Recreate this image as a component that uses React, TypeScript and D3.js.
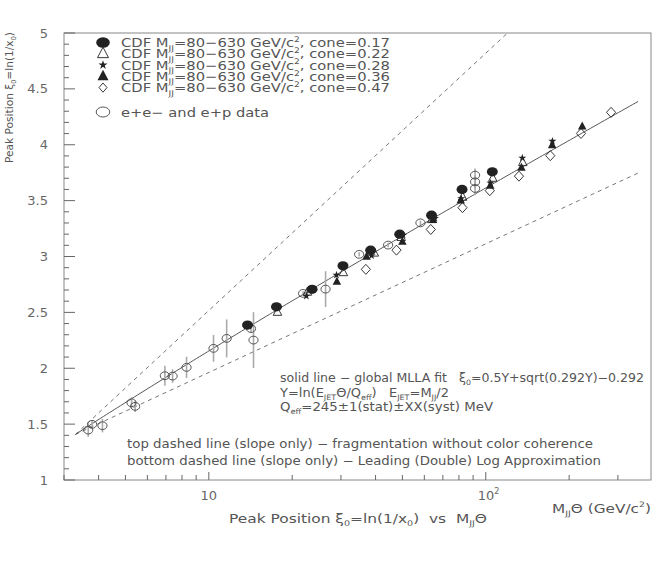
import React from "react";
import * as d3 from "d3";

// ---- data ----
const cone017M = [13.8, 17.55, 23.6, 30.5, 38.4, 48.9, 63.7, 82.1, 105.6];
const cone017Xi = [2.386, 2.55, 2.706, 2.917, 3.057, 3.2, 3.37, 3.6, 3.758];
const cone022M = [17.7, 22.7, 30.6, 39.6, 49.5, 63.8, 82.5, 106, 136];
const cone022Xi = [2.5, 2.68, 2.855, 3.03, 3.17, 3.33, 3.53, 3.7, 3.84];
const cone028M = [22.5, 28.9, 38.7, 50.3, 65.5, 81.6, 104, 135.5, 174];
const cone028Xi = [2.646, 2.834, 3.008, 3.191, 3.341, 3.518, 3.657, 3.882, 4.032];
const cone036M = [29.0, 37.1, 50.0, 64.5, 81.2, 103.8, 134.5, 173.7, 223];
const cone036Xi = [2.774, 2.997, 3.131, 3.326, 3.5, 3.634, 3.793, 3.996, 4.162];
const cone047M = [36.9, 47.6, 63.3, 82.4, 103.4, 131.8, 171, 220.7, 283.4];
const cone047Xi = [2.885, 3.057, 3.242, 3.437, 3.589, 3.719, 3.902, 4.101, 4.29];

const eeM = [3.67, 3.79, 4.13, 5.26, 5.42, 6.94, 7.4, 8.31, 10.4, 11.6, 14.2, 14.5, 21.9, 26.4, 34.9, 44.4, 58.1, 91.5, 91.5, 91.5];
const eeXi = [1.447, 1.498, 1.486, 1.691, 1.659, 1.933, 1.93, 2.008, 2.178, 2.267, 2.355, 2.252, 2.67, 2.708, 3.019, 3.102, 3.301, 3.728, 3.668, 3.609];
const eeErr = [0.06, 0.04, 0.06, 0.05, 0.05, 0.09, 0.06, 0.095, 0.12, 0.17, 0.03, 0.25, 0.02, 0.16, 0.02, 0.02, 0.02, 0.06, 0.06, 0.06];

const yTickLabels = ["1", "1.5", "2", "2.5", "3", "3.5", "4", "4.5", "5"];
const legendLabels = ["0.17", "0.22", "0.28", "0.36", "0.47"];

// fit parameters (printed on the chart)
const Q_EFF = 0.245;
const FIT_A = 0.292;
const LINE_M0 = 3.3;
const LINE_M1 = 355;

type Seg = { t: string; s?: "sub" | "sup" };

function Rich({ x, y, segs, size, anchor = "start", fill = "#555", len }: { x: number; y: number; segs: Seg[]; size: number; anchor?: string; fill?: string; len?: number }) {
  let cur = 0;
  const spans = segs.map((sg, i) => {
    const target = sg.s === "sub" ? size * 0.28 : sg.s === "sup" ? -size * 0.42 : 0;
    const dy = target - cur;
    cur = target;
    return (
      <tspan key={i} dy={dy} fontSize={sg.s ? size * 0.62 : size}>
        {sg.t}
      </tspan>
    );
  });
  const extra: any = len ? { textLength: len, lengthAdjust: "spacingAndGlyphs" } : {};
  return (
    <text x={x} y={y} textAnchor={anchor} fontSize={size} fill={fill} fontFamily="DejaVu Sans, sans-serif" style={{ whiteSpace: "pre" }} {...extra}>
      {spans}
    </text>
  );
}

const triPath = (s: number) => `M0,${-s * 0.6}L${s / 2},${s * 0.35}L${-s / 2},${s * 0.35}Z`;
const diaPath = (w: number, h: number) => `M0,${-h}L${w},0L0,${h}L${-w},0Z`;
const starPath = (size: number) => d3.symbol(d3.symbolStar, size)() as string;

export default function App() {
  const L = 64, R = 651, T = 33, B = 480;
  const x = d3.scaleLog().domain([3, 395]).range([L, R]);
  const y = d3.scaleLinear().domain([1, 5]).range([B, T]);

  const fit = (m: number) => {
    const Y = Math.log(m / 2 / Q_EFF);
    return 0.5 * Y + Math.sqrt(FIT_A * Y) - FIT_A;
  };
  const xi0 = fit(LINE_M0);
  const ms = d3.range(0, 201).map((i) => LINE_M0 * Math.pow(LINE_M1 / LINE_M0, i / 200));
  const line = d3.line<[number, number]>().x((d) => x(d[0])).y((d) => y(d[1]));
  const fitPath = line(ms.map((m) => [m, fit(m)]));
  const mTop = LINE_M0 * Math.exp(5 - xi0);
  const topPath = line([[LINE_M0, xi0], [mTop, 5]]);
  const botPath = line([[LINE_M0, xi0], [LINE_M1, xi0 + 0.5 * Math.log(LINE_M1 / LINE_M0)]]);

  const xTicks = x.ticks();
  const yTicks = d3.range(10, 51).map((v) => v / 10);

  const ink = "#222";
  const grey = "#666";

  const legendY = [42.5, 53.8, 65, 76.3, 87.6];

  return (
    <svg width={654} height={572} style={{ position: "absolute", left: 0, top: 0, background: "#fff" }}>
      <defs>
        <clipPath id="frame">
          <rect x={L} y={T} width={R - L} height={B - T} />
        </clipPath>
      </defs>
      {/* frame */}
      <rect x={L} y={T} width={R - L} height={B - T} fill="none" stroke="#888" strokeWidth={1} />

      {/* y ticks */}
      {yTicks.map((v, i) => {
        const major = Math.abs(v * 2 - Math.round(v * 2)) < 1e-6;
        return <line key={i} x1={L} x2={L + (major ? 11 : 5)} y1={y(v)} y2={y(v)} stroke={grey} strokeWidth={1} />;
      })}
      {yTickLabels.map((t) => (
        <text key={t} x={48} y={y(+t) + 4.5} textAnchor="end" fontSize={13} fill="#666" fontFamily="DejaVu Sans, sans-serif">
          {t}
        </text>
      ))}

      {/* x ticks */}
      {xTicks.map((v, i) => {
        const major = Math.abs(Math.log10(v) - Math.round(Math.log10(v))) < 1e-6;
        return <line key={i} x1={x(v)} x2={x(v)} y1={B} y2={B - (major ? 8 : 5)} stroke={grey} strokeWidth={1} />;
      })}
      <text x={x(10)} y={499.5} textAnchor="middle" fontSize={13} fill="#666" fontFamily="DejaVu Sans, sans-serif">10</text>
      <Rich x={x(100) - 8} y={499.5} size={13} fill="#666" segs={[{ t: "10" }, { t: "2", s: "sup" }]} />

      {/* axis titles */}
      <Rich x={229} y={522.5} size={12.5} len={258} segs={[{ t: "Peak Position ξ" }, { t: "0", s: "sub" }, { t: "=ln(1/x" }, { t: "0", s: "sub" }, { t: ")  vs  M" }, { t: "JJ", s: "sub" }, { t: "Θ" }]} />
      <Rich x={552} y={512.5} size={12} len={99} segs={[{ t: "M" }, { t: "JJ", s: "sub" }, { t: "Θ (GeV/c" }, { t: "2", s: "sup" }, { t: ")" }]} />
      <g transform="translate(13,163) rotate(-90)">
        <Rich x={0} y={0} size={11} len={131} segs={[{ t: "Peak Position ξ" }, { t: "0", s: "sub" }, { t: "=ln(1/x" }, { t: "0", s: "sub" }, { t: ")" }]} />
      </g>

      {/* lines */}
      <g clipPath="url(#frame)" fill="none">
        <path d={topPath || ""} stroke={grey} strokeWidth={0.9} strokeDasharray="4,4" />
        <path d={botPath || ""} stroke={grey} strokeWidth={0.9} strokeDasharray="4,4" />
        <path d={fitPath || ""} stroke="#555" strokeWidth={1} />
      </g>

      {/* e+e- data */}
      <g>
        {eeM.map((m, i) => (
          <line key={"e" + i} x1={x(m)} x2={x(m)} y1={y(eeXi[i] - eeErr[i])} y2={y(eeXi[i] + eeErr[i])} stroke="#aaa" strokeWidth={1.6} />
        ))}
        {eeM.map((m, i) => (
          <ellipse key={"c" + i} cx={x(m)} cy={y(eeXi[i])} rx={4.6} ry={3.9} fill="none" stroke="#444" strokeWidth={0.9} />
        ))}
      </g>

      {/* CDF data */}
      <g>
        {cone022M.map((m, i) => (
          <path key={"t" + i} transform={`translate(${x(m)},${y(cone022Xi[i])})`} d={triPath(8.5)} fill="none" stroke={ink} strokeWidth={0.9} />
        ))}
        {cone047M.map((m, i) => (
          <path key={"d" + i} transform={`translate(${x(m)},${y(cone047Xi[i])})`} d={diaPath(4.6, 5)} fill="none" stroke={ink} strokeWidth={0.9} />
        ))}
        {cone017M.map((m, i) => (
          <ellipse key={"f" + i} cx={x(m)} cy={y(cone017Xi[i])} rx={5.5} ry={4.6} fill={ink} />
        ))}
        {cone036M.map((m, i) => (
          <path key={"T" + i} transform={`translate(${x(m)},${y(cone036Xi[i])})`} d={triPath(8.5)} fill={ink} />
        ))}
        {cone028M.map((m, i) => (
          <path key={"s" + i} transform={`translate(${x(m)},${y(cone028Xi[i])})`} d={starPath(20)} fill={ink} />
        ))}
      </g>

      {/* legend */}
      <g>
        <ellipse cx={103} cy={legendY[0]} rx={6.8} ry={5.2} fill={ink} />
        <path transform={`translate(103,${legendY[1]})`} d={triPath(11)} fill="none" stroke={ink} strokeWidth={0.9} />
        <path transform={`translate(103,${legendY[2]})`} d={starPath(26)} fill={ink} />
        <path transform={`translate(103,${legendY[3]})`} d={triPath(11)} fill={ink} />
        <path transform={`translate(103,${legendY[4]})`} d={diaPath(4, 4.6)} fill="none" stroke={ink} strokeWidth={0.9} />
        <ellipse cx={103} cy={112} rx={6.8} ry={5} fill="none" stroke="#444" strokeWidth={0.9} />
        {legendLabels.map((c, i) => (
          <Rich key={c} x={121} y={legendY[i] + 4.5} size={12.5} len={269} segs={[{ t: "CDF M" }, { t: "JJ", s: "sub" }, { t: "=80−630 GeV/c" }, { t: "2", s: "sup" }, { t: ", cone=" + c }]} />
        ))}
        <Rich x={121} y={116.5} size={12.5} len={148} segs={[{ t: "e+e− and e+p data" }]} />
      </g>

      {/* annotations */}
      <Rich x={280} y={381.5} size={12} len={364} segs={[{ t: "solid line − global MLLA fit   ξ" }, { t: "0", s: "sub" }, { t: "=0.5Y+sqrt(0.292Y)−0.292" }]} />
      <Rich x={280} y={396.8} size={12} len={169} segs={[{ t: "Y=ln(E" }, { t: "JET", s: "sub" }, { t: "Θ/Q" }, { t: "eff", s: "sub" }, { t: ")   E" }, { t: "JET", s: "sub" }, { t: "=M" }, { t: "JJ", s: "sub" }, { t: "/2" }]} />
      <Rich x={280} y={410.5} size={12} len={213} segs={[{ t: "Q" }, { t: "eff", s: "sub" }, { t: "=245±1(stat)±XX(syst) MeV" }]} />
      <Rich x={127} y={447.8} size={12} len={466} segs={[{ t: "top dashed line (slope only) − fragmentation without color coherence" }]} />
      <Rich x={127} y={464.5} size={12} len={474} segs={[{ t: "bottom dashed line (slope only) − Leading (Double) Log Approximation" }]} />
    </svg>
  );
}
